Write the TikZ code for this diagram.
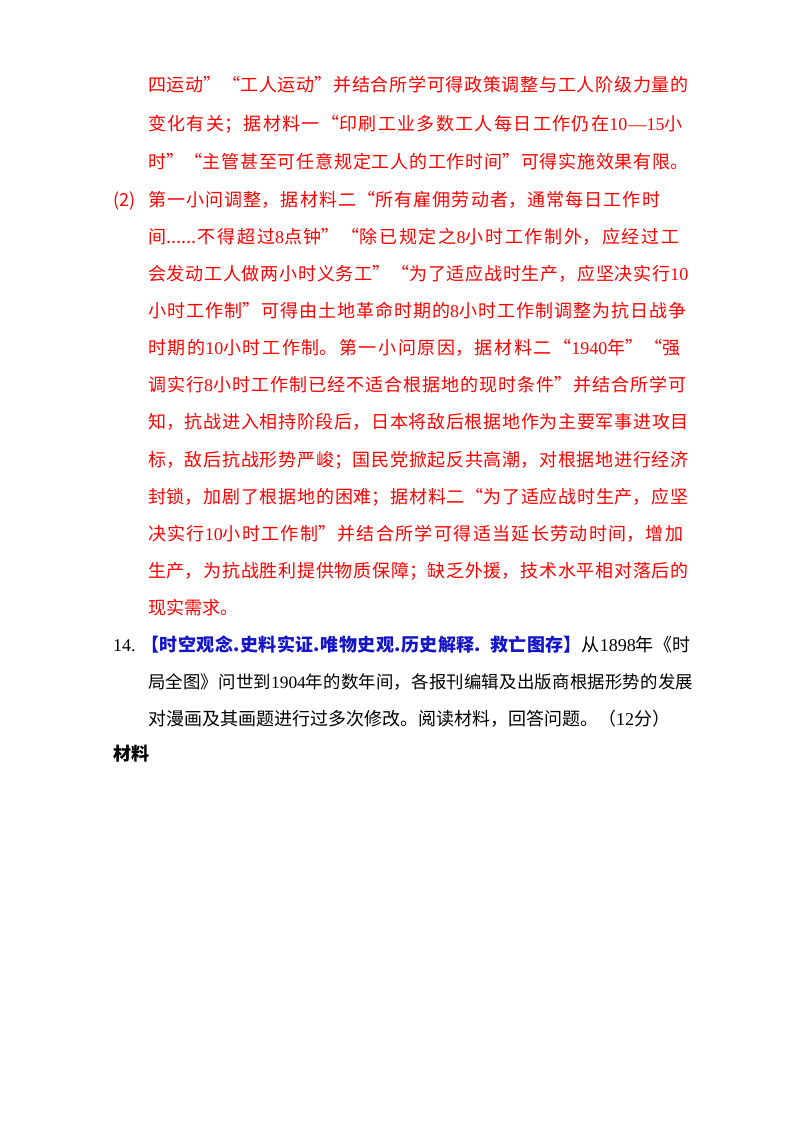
\documentclass[tikz,border=0pt]{standalone}
\usepackage{fontspec}
\setmainfont{Liberation Serif}
\newfontfamily\cjk{Noto Sans CJK SC}
\XeTeXlinebreaklocale "zh"
\XeTeXlinebreakskip=0pt plus 4pt minus 1pt
\tikzset{ln/.style={anchor=base west,inner sep=0pt,font=\cjk\fontsize{18}{22}\selectfont},
 red/.style={text=red}}
\newcommand\jl[1]{{\parfillskip=0pt\relax #1\par}}
\definecolor{hb}{RGB}{20,20,200}
\begin{document}
\begin{tikzpicture}[x=1pt,y=-1pt]
\useasboundingbox (0,0) rectangle (800,1134);
\foreach \y/\t [count=\i] in {
 92/{四运动”“工人运动”并结合所学可得政策调整与工人阶级力量的},
 131/{变化有关；据材料一“印刷工业多数工人每日工作仍在{\rmfamily 10—15}小},
 169/{时”“主管甚至可任意规定工人的工作时间”可得实施效果有限。}}
 \node[ln,red,text width=547pt] (a\i) at (148,\y) {\jl{\t}};
\node[ln,red] (p2) at (113,206) {(2)};
\node[ln,red,text width=522pt] (b0) at (148,206) {\jl{第一小问调整，据材料二“所有雇佣劳动者，通常每日工作时}};
\foreach \y/\t [count=\i] in {
 243/{间......不得超过{\rmfamily 8}点钟”“除已规定之{\rmfamily 8}小时工作制外，应经过工},
 280/{会发动工人做两小时义务工”“为了适应战时生产，应坚决实行{\rmfamily 10}},
 317/{小时工作制”可得由土地革命时期的{\rmfamily 8}小时工作制调整为抗日战争},
 354/{时期的{\rmfamily 10}小时工作制。第一小问原因，据材料二“{\rmfamily 1940}年”“强},
 391/{调实行{\rmfamily 8}小时工作制已经不适合根据地的现时条件”并结合所学可},
 428/{知，抗战进入相持阶段后，日本将敌后根据地作为主要军事进攻目},
 466/{标，敌后抗战形势严峻；国民党掀起反共高潮，对根据地进行经济},
 503/{封锁，加剧了根据地的困难；据材料二“为了适应战时生产，应坚},
 540/{决实行{\rmfamily 10}小时工作制”并结合所学可得适当延长劳动时间，增加},
 577/{生产，为抗战胜利提供物质保障；缺乏外援，技术水平相对落后的}}
 \node[ln,red,text width=547pt] (b\i) at (148,\y) {\jl{\t}};
\node[ln,red] (b11) at (148,614) {现实需求。};
\node[ln,text width=582pt] (c1) at (113,651) {\jl{{\rmfamily 14.}\ {\color{hb}\bfseries【时空观念.史料实证.唯物史观.历史解释. 救亡图存】}从{\rmfamily 1898}年《时}};
\node[ln,text width=547pt,font=\cjk\fontsize{17.4}{22}\selectfont] (c2) at (148,688) {\jl{局全图》问世到{\rmfamily 1904}年的数年间，各报刊编辑及出版商根据形势的发展}};
\node[ln] (c3) at (148,725) {对漫画及其画题进行过多次修改。阅读材料，回答问题。（{\rmfamily 12}分）};
\node[ln,font=\cjk\bfseries\fontsize{18}{22}\selectfont] (c4) at (113,760) {材料};
\end{tikzpicture}
\end{document}
